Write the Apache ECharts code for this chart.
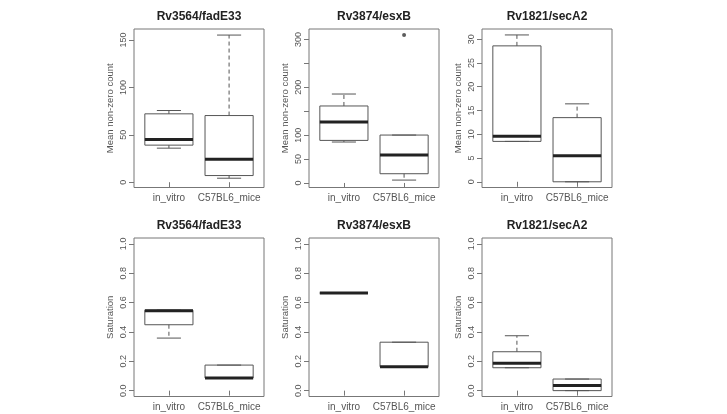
<!DOCTYPE html>
<html>
<head>
<meta charset="utf-8">
<script src="https://cdn.jsdelivr.net/npm/echarts@6/dist/echarts.min.js"></script>
<style>
  html, body { margin: 0; padding: 0; background: #fff; }
  #chart { width: 727px; height: 414px; }
</style>
</head>
<body>
<div id="chart"></div>
<script>
// groups on the x axis of every panel
var groups = ['in_vitro', 'C57BL6_mice']
var genes = ['Rv3564/fadE33', 'Rv3874/esxB', 'Rv1821/secA2']

// box stats per group: [min, q1, median, q3, max]
var countFadE33 = [[35.9, 39.1, 45.0, 72.1, 75.6], [4.2, 7.0, 24.3, 70.3, 155.2]]
var countEsxB = [[85.6, 89.0, 127.5, 161.0, 186.0], [6.0, 19.3, 58.4, 100.2, 100.2]]
var countSecA2 = [[8.5, 8.5, 9.6, 28.6, 30.9], [0.0, 0.0, 5.5, 13.5, 16.4]]
var satFadE33 = [[0.358, 0.449, 0.545, 0.548, 0.548], [0.086, 0.086, 0.086, 0.174, 0.174]]
var satEsxB = [[0.665, 0.665, 0.665, 0.665, 0.665], [0.163, 0.163, 0.163, 0.33, 0.33]]
var satSecA2 = [[0.156, 0.156, 0.186, 0.265, 0.374], [0.0, 0.0, 0.035, 0.079, 0.079]]

// outliers: [group number, value]
var outEsxB = [[2, 309.5]]

// y ticks and labels
var ticksFadE33 = [0, 50, 100, 150]
var ticksEsxB = [0, 50, 100, 150, 200, 250, 300]
var labelsEsxB = [0, 50, 100, 200, 300]
var ticksSecA2 = [0, 5, 10, 15, 20, 25, 30]
var ticksSat = [0, 0.2, 0.4, 0.6, 0.8, 1.0]

var panels = [
  { title: genes[0], stats: countFadE33, out: [], ticks: ticksFadE33, labels: ticksFadE33, min: -5.6, max: 161.6, name: 'Mean non-zero count', dec: 0 },
  { title: genes[1], stats: countEsxB, out: outEsxB, ticks: ticksEsxB, labels: labelsEsxB, min: -9.5, max: 322, name: 'Mean non-zero count', dec: 0 },
  { title: genes[2], stats: countSecA2, out: [], ticks: ticksSecA2, labels: ticksSecA2, min: -1.2, max: 32.15, name: 'Mean non-zero count', dec: 0 },
  { title: genes[0], stats: satFadE33, out: [], ticks: ticksSat, labels: ticksSat, min: -0.04, max: 1.04, name: 'Saturation', dec: 1 },
  { title: genes[1], stats: satEsxB, out: [], ticks: ticksSat, labels: ticksSat, min: -0.04, max: 1.04, name: 'Saturation', dec: 1 },
  { title: genes[2], stats: satSecA2, out: [], ticks: ticksSat, labels: ticksSat, min: -0.04, max: 1.04, name: 'Saturation', dec: 1 }
]

var FONT = '"Liberation Sans", Arial, Helvetica, sans-serif'
var LINE = '#555'
var BOX_HALF = 0.4
var STAPLE_HALF = 0.2
var colLeft = [134, 309, 482]
var rowTop = [29, 238]
var titleTop = [11, 220]
var panelW = 130
var panelH = 158.5

function renderBox(params, api) {
  var x = api.value(0)
  var lo = api.value(1), q1 = api.value(2), med = api.value(3), q3 = api.value(4), hi = api.value(5)
  function seg(x1, v1, x2, v2, style) {
    var p1 = api.coord([x1, v1])
    var p2 = api.coord([x2, v2])
    return { type: 'line', shape: { x1: p1[0], y1: p1[1], x2: p2[0], y2: p2[1] }, style: style }
  }
  var solid = { stroke: LINE, lineWidth: 1 }
  var dashed = { stroke: LINE, lineWidth: 1, lineDash: [4, 3] }
  var tl = api.coord([x - BOX_HALF, q3])
  var br = api.coord([x + BOX_HALF, q1])
  var kids = []
  if (hi > q3) kids.push(seg(x, q3, x, hi, dashed))
  if (lo < q1) kids.push(seg(x, q1, x, lo, dashed))
  kids.push(seg(x - STAPLE_HALF, hi, x + STAPLE_HALF, hi, solid))
  kids.push(seg(x - STAPLE_HALF, lo, x + STAPLE_HALF, lo, solid))
  kids.push({
    type: 'rect',
    shape: { x: tl[0], y: tl[1], width: br[0] - tl[0], height: br[1] - tl[1] },
    style: { fill: null, stroke: LINE, lineWidth: 1 }
  })
  kids.push(seg(x - BOX_HALF, med, x + BOX_HALF, med, { stroke: '#222', lineWidth: 3 }))
  return { type: 'group', children: kids }
}

var grids = [], xAxes = [], yAxes = [], series = [], titles = []
panels.forEach(function (p, i) {
  var left = colLeft[i % 3]
  var row = Math.floor(i / 3)
  var top = rowTop[row]
  grids.push({ left: left, top: top, width: panelW, height: panelH, show: true, borderColor: '#777', borderWidth: 1, backgroundColor: 'transparent' })
  titles.push({
    text: p.title, left: left + panelW / 2, top: titleTop[row], textAlign: 'center', padding: 0,
    textStyle: { fontFamily: FONT, fontSize: 12, fontWeight: 'bold', color: '#222' }
  })
  xAxes.push({
    type: 'value', gridIndex: i, min: 0.42, max: 2.58,
    axisLine: { show: false }, splitLine: { show: false },
    axisTick: { show: true, length: 5, customValues: [1, 2], lineStyle: { color: '#777' } },
    axisLabel: {
      customValues: [1, 2], margin: 6, color: '#555', fontFamily: FONT, fontSize: 10,
      formatter: function (v) { return groups[Math.round(v) - 1] }
    }
  })
  yAxes.push({
    type: 'value', gridIndex: i, min: p.min, max: p.max,
    name: p.name, nameLocation: 'middle', nameRotate: 90, nameGap: 19,
    nameTextStyle: { fontFamily: FONT, fontSize: 9.5, color: '#555' },
    axisLine: { show: false }, splitLine: { show: false },
    axisTick: { show: true, length: 5, customValues: p.ticks, lineStyle: { color: '#777' } },
    axisLabel: {
      customValues: p.labels, rotate: 90, margin: 6, color: '#555', fontFamily: FONT, fontSize: 9,
      formatter: function (v) { return v.toFixed(p.dec) }
    }
  })
  series.push({
    type: 'custom', xAxisIndex: i, yAxisIndex: i,
    renderItem: renderBox,
    encode: { x: 0, y: [1, 2, 3, 4, 5] },
    data: p.stats.map(function (s, g) { return [g + 1].concat(s) }),
    silent: true
  })
  if (p.out.length) {
    series.push({
      type: 'scatter', xAxisIndex: i, yAxisIndex: i,
      symbol: 'circle', symbolSize: 4,
      itemStyle: { color: '#333' },
      data: p.out, silent: true
    })
  }
})

var chart = echarts.init(document.getElementById('chart'), null, { renderer: 'canvas' })
chart.setOption({
  animation: false,
  backgroundColor: '#fff',
  title: titles,
  grid: grids,
  xAxis: xAxes,
  yAxis: yAxes,
  series: series
})
</script>
</body>
</html>
